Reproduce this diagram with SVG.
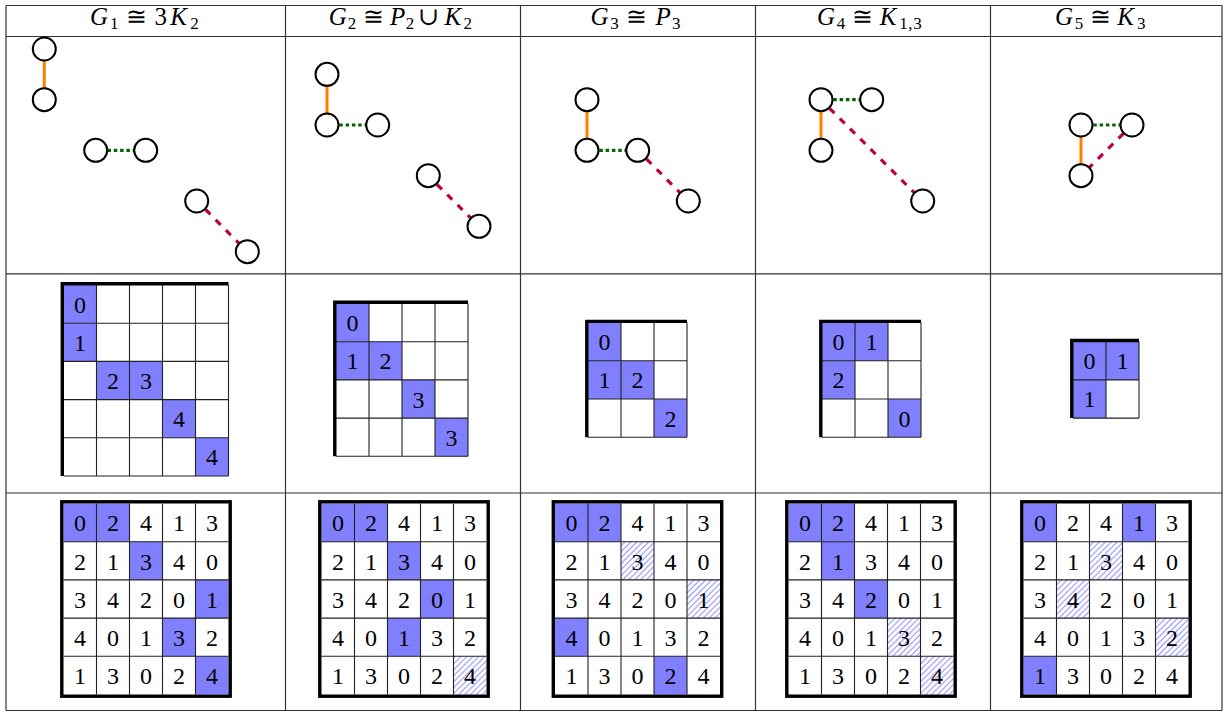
<svg xmlns="http://www.w3.org/2000/svg" xmlns:xlink="http://www.w3.org/1999/xlink" width="1226" height="713" viewBox="0 0 1226 713">
<style>
.tbl{stroke:#333;stroke-width:1.2;fill:none}
.hdr{font-family:"Liberation Serif","DejaVu Serif",serif;font-size:25px;fill:#000;text-anchor:middle}
.it{font-style:italic}
.sub{font-size:17px}
.num{font-family:"Liberation Serif","DejaVu Serif",serif;font-size:24px;fill:#000;text-anchor:middle}
.node{fill:#fff;stroke:#000;stroke-width:2}
.e-or{stroke:#ff8000;stroke-width:3;fill:none}
.e-gr{stroke:#006600;stroke-width:3.2;fill:none;stroke-dasharray:3.5 2.8}
.e-pu{stroke:#bf0040;stroke-width:3.2;fill:none;stroke-dasharray:7 7.5}
.thin{stroke:#222;stroke-width:1.1;fill:none}
.thick{stroke:#000;stroke-width:3.4;fill:none}
.hl{fill:#8080ff}
.ht{fill:url(#hatch)}
</style>
<defs>
<pattern id="hatch" patternUnits="userSpaceOnUse" width="4.2" height="4.2" patternTransform="rotate(45)">
<rect width="4.2" height="4.2" fill="#fff"/>
<line x1="1" y1="0" x2="1" y2="4.2" stroke="#6a6aff" stroke-width="0.8"/>
</pattern>
<g id="latin">
<path class="thin" d="M33 0V191M66 0V191M99 0V191M132 0V191M0 38.2H165M0 76.4H165M0 114.6H165M0 152.8H165"/>
<rect class="thick" x="-1.7" y="-1.7" width="168.4" height="194.4"/>
<text class="num" x="16.5" y="27.8">0</text><text class="num" x="49.5" y="27.8">2</text><text class="num" x="82.5" y="27.8">4</text><text class="num" x="115.5" y="27.8">1</text><text class="num" x="148.5" y="27.8">3</text>
<text class="num" x="16.5" y="66">2</text><text class="num" x="49.5" y="66">1</text><text class="num" x="82.5" y="66">3</text><text class="num" x="115.5" y="66">4</text><text class="num" x="148.5" y="66">0</text>
<text class="num" x="16.5" y="104.2">3</text><text class="num" x="49.5" y="104.2">4</text><text class="num" x="82.5" y="104.2">2</text><text class="num" x="115.5" y="104.2">0</text><text class="num" x="148.5" y="104.2">1</text>
<text class="num" x="16.5" y="142.4">4</text><text class="num" x="49.5" y="142.4">0</text><text class="num" x="82.5" y="142.4">1</text><text class="num" x="115.5" y="142.4">3</text><text class="num" x="148.5" y="142.4">2</text>
<text class="num" x="16.5" y="180.6">1</text><text class="num" x="49.5" y="180.6">3</text><text class="num" x="82.5" y="180.6">0</text><text class="num" x="115.5" y="180.6">2</text><text class="num" x="148.5" y="180.6">4</text>
</g>
</defs>
<rect width="1226" height="713" fill="#fff"/>

<g id="table">
<path class="tbl" d="M6 5.5H1222M6 36.5H1222M6 273.8H1222M6 493H1222M6 710.5H1222M6 5.5V710.5M285.5 5.5V710.5M520.5 5.5V710.5M755.5 5.5V710.5M990.5 5.5V710.5M1222 5.5V710.5"/>
</g>

<g id="headers">
<text class="hdr"><tspan class="it" x="99.1" y="25">G</tspan><tspan class="sub" x="114.2" y="28.5">1</tspan><tspan x="136" y="25">≅</tspan><tspan x="160.8" y="25">3</tspan><tspan class="it" x="178.7" y="25">K</tspan><tspan class="sub" x="194.5" y="28.5">2</tspan></text>
<text class="hdr"><tspan class="it" x="337.7" y="25">G</tspan><tspan class="sub" x="351.9" y="28.5">2</tspan><tspan x="373" y="25">≅</tspan><tspan class="it" x="397.7" y="25">P</tspan><tspan class="sub" x="410.1" y="28.5">2</tspan><tspan x="428.3" y="25">∪</tspan><tspan class="it" x="452.8" y="25">K</tspan><tspan class="sub" x="467.8" y="28.5">2</tspan></text>
<text class="hdr"><tspan class="it" x="599.5" y="25">G</tspan><tspan class="sub" x="614.6" y="28.5">3</tspan><tspan x="636.9" y="25">≅</tspan><tspan class="it" x="663.1" y="25">P</tspan><tspan class="sub" x="676.2" y="28.5">3</tspan></text>
<text class="hdr"><tspan class="it" x="826" y="25">G</tspan><tspan class="sub" x="841" y="28.5">4</tspan><tspan x="862" y="25">≅</tspan><tspan class="it" x="888" y="25">K</tspan><tspan class="sub" x="903.4" y="28.5">1</tspan><tspan class="sub" x="910.4" y="28.5">,</tspan><tspan class="sub" x="917.4" y="28.5">3</tspan></text>
<text class="hdr"><tspan class="it" x="1064" y="25">G</tspan><tspan class="sub" x="1079" y="28.5">5</tspan><tspan x="1100" y="25">≅</tspan><tspan class="it" x="1125.5" y="25">K</tspan><tspan class="sub" x="1141.2" y="28.5">3</tspan></text>
</g>

<g id="connectors">
<line class="e-or" x1="44.3" y1="49" x2="44.3" y2="99.7"/>
<line class="e-gr" x1="107.5" y1="150.3" x2="134" y2="150.3"/>
<line class="e-pu" x1="205.5" y1="209.5" x2="247.3" y2="251.7"/>
<line class="e-or" x1="327" y1="74.3" x2="327" y2="125"/>
<line class="e-gr" x1="339.3" y1="125" x2="366" y2="125"/>
<line class="e-pu" x1="437" y1="184.5" x2="479" y2="226.3"/>
<line class="e-or" x1="587" y1="99.7" x2="587" y2="150.3"/>
<line class="e-gr" x1="599.3" y1="150.3" x2="626" y2="150.3"/>
<line class="e-pu" x1="646.5" y1="159" x2="688.3" y2="201"/>
<line class="e-or" x1="821" y1="99.7" x2="821" y2="150.3"/>
<line class="e-gr" x1="833.3" y1="99.7" x2="860" y2="99.7"/>
<line class="e-pu" x1="829.5" y1="108.3" x2="922.7" y2="201"/>
<line class="e-or" x1="1081" y1="125" x2="1081" y2="175.7"/>
<line class="e-gr" x1="1093.3" y1="125" x2="1120" y2="125"/>
<line class="e-pu" x1="1123.5" y1="133.5" x2="1081" y2="175.7"/>
</g>

<g id="g1-n1"><circle class="node" cx="44.3" cy="49" r="11.5"/></g>
<g id="g1-n2"><circle class="node" cx="44.3" cy="99.7" r="11.5"/></g>
<g id="g1-n3"><circle class="node" cx="95.7" cy="150.3" r="11.5"/></g>
<g id="g1-n4"><circle class="node" cx="145.7" cy="150.3" r="11.5"/></g>
<g id="g1-n5"><circle class="node" cx="196.7" cy="201" r="11.5"/></g>
<g id="g1-n6"><circle class="node" cx="247.3" cy="251.7" r="11.5"/></g>

<g id="g2-n1"><circle class="node" cx="327" cy="74.3" r="11.5"/></g>
<g id="g2-n2"><circle class="node" cx="327" cy="125" r="11.5"/></g>
<g id="g2-n3"><circle class="node" cx="377.7" cy="125" r="11.5"/></g>
<g id="g2-n4"><circle class="node" cx="428.3" cy="175.7" r="11.5"/></g>
<g id="g2-n5"><circle class="node" cx="479" cy="226.3" r="11.5"/></g>

<g id="g3-n1"><circle class="node" cx="587" cy="99.7" r="11.5"/></g>
<g id="g3-n2"><circle class="node" cx="587" cy="150.3" r="11.5"/></g>
<g id="g3-n3"><circle class="node" cx="637.7" cy="150.3" r="11.5"/></g>
<g id="g3-n4"><circle class="node" cx="688.3" cy="201" r="11.5"/></g>

<g id="g4-n1"><circle class="node" cx="821" cy="99.7" r="11.5"/></g>
<g id="g4-n2"><circle class="node" cx="871.7" cy="99.7" r="11.5"/></g>
<g id="g4-n3"><circle class="node" cx="821" cy="150.3" r="11.5"/></g>
<g id="g4-n4"><circle class="node" cx="922.7" cy="201" r="11.5"/></g>

<g id="g5-n1"><circle class="node" cx="1081" cy="125" r="11.5"/></g>
<g id="g5-n2"><circle class="node" cx="1132" cy="125" r="11.5"/></g>
<g id="g5-n3"><circle class="node" cx="1081" cy="175.7" r="11.5"/></g>

<g id="young-1" transform="translate(63.5,285)">
<rect class="hl" x="0" y="0" width="33" height="38.2"/><rect class="hl" x="0" y="38.2" width="33" height="38.2"/><rect class="hl" x="33" y="76.4" width="33" height="38.2"/><rect class="hl" x="66" y="76.4" width="33" height="38.2"/><rect class="hl" x="99" y="114.6" width="33" height="38.2"/><rect class="hl" x="132" y="152.8" width="33" height="38.2"/>
<path class="thin" d="M33 0V191M66 0V191M99 0V191M132 0V191M165 0V191M0 38.2H165M0 76.4H165M0 114.6H165M0 152.8H165M0 191H165"/>
<path class="thick" d="M-1.2 191V-1.2H165"/>
<text class="num" x="16.5" y="27.6">0</text><text class="num" x="16.5" y="65.8">1</text><text class="num" x="49.5" y="104">2</text><text class="num" x="82.5" y="104">3</text><text class="num" x="115.5" y="142.2">4</text><text class="num" x="148.5" y="180.4">4</text>
</g>

<g id="young-2" transform="translate(336,303.5)">
<rect class="hl" x="0" y="0" width="33" height="38.2"/><rect class="hl" x="0" y="38.2" width="33" height="38.2"/><rect class="hl" x="33" y="38.2" width="33" height="38.2"/><rect class="hl" x="66" y="76.4" width="33" height="38.2"/><rect class="hl" x="99" y="114.6" width="33" height="38.2"/>
<path class="thin" d="M33 0V152.8M66 0V152.8M99 0V152.8M132 0V152.8M0 38.2H132M0 76.4H132M0 114.6H132M0 152.8H132"/>
<path class="thick" d="M-1.2 152.8V-1.2H132"/>
<text class="num" x="16.5" y="27.6">0</text><text class="num" x="16.5" y="65.8">1</text><text class="num" x="49.5" y="65.8">2</text><text class="num" x="82.5" y="104">3</text><text class="num" x="115.5" y="142.2">3</text>
</g>

<g id="young-3" transform="translate(588,322.6)">
<rect class="hl" x="0" y="0" width="33" height="38.2"/><rect class="hl" x="0" y="38.2" width="33" height="38.2"/><rect class="hl" x="33" y="38.2" width="33" height="38.2"/><rect class="hl" x="66" y="76.4" width="33" height="38.2"/>
<path class="thin" d="M33 0V114.6M66 0V114.6M99 0V114.6M0 38.2H99M0 76.4H99M0 114.6H99"/>
<path class="thick" d="M-1.2 114.6V-1.2H99"/>
<text class="num" x="16.5" y="27.6">0</text><text class="num" x="16.5" y="65.8">1</text><text class="num" x="49.5" y="65.8">2</text><text class="num" x="82.5" y="104">2</text>
</g>

<g id="young-4" transform="translate(822,322.6)">
<rect class="hl" x="0" y="0" width="33" height="38.2"/><rect class="hl" x="33" y="0" width="33" height="38.2"/><rect class="hl" x="0" y="38.2" width="33" height="38.2"/><rect class="hl" x="66" y="76.4" width="33" height="38.2"/>
<path class="thin" d="M33 0V114.6M66 0V114.6M99 0V114.6M0 38.2H99M0 76.4H99M0 114.6H99"/>
<path class="thick" d="M-1.2 114.6V-1.2H99"/>
<text class="num" x="16.5" y="27.6">0</text><text class="num" x="49.5" y="27.6">1</text><text class="num" x="16.5" y="65.8">2</text><text class="num" x="82.5" y="104">0</text>
</g>

<g id="young-5" transform="translate(1073,341.7)">
<rect class="hl" x="0" y="0" width="33" height="38.2"/><rect class="hl" x="33" y="0" width="33" height="38.2"/><rect class="hl" x="0" y="38.2" width="33" height="38.2"/>
<path class="thin" d="M33 0V76.4M66 0V76.4M0 38.2H66M0 76.4H66"/>
<path class="thick" d="M-1.2 76.4V-1.2H66"/>
<text class="num" x="16.5" y="27.6">0</text><text class="num" x="49.5" y="27.6">1</text><text class="num" x="16.5" y="65.8">1</text>
</g>

<g id="latin-1" transform="translate(63.5,503.5)">
<rect class="hl" x="0" y="0" width="33" height="38.2"/><rect class="hl" x="33" y="0" width="33" height="38.2"/><rect class="hl" x="66" y="38.2" width="33" height="38.2"/><rect class="hl" x="132" y="76.4" width="33" height="38.2"/><rect class="hl" x="99" y="114.6" width="33" height="38.2"/><rect class="hl" x="132" y="152.8" width="33" height="38.2"/>
<use href="#latin" xlink:href="#latin"/>
</g>

<g id="latin-2" transform="translate(321.5,503.5)">
<rect class="hl" x="0" y="0" width="33" height="38.2"/><rect class="hl" x="33" y="0" width="33" height="38.2"/><rect class="hl" x="66" y="38.2" width="33" height="38.2"/><rect class="hl" x="99" y="76.4" width="33" height="38.2"/><rect class="hl" x="66" y="114.6" width="33" height="38.2"/>
<rect class="ht" x="132" y="152.8" width="33" height="38.2"/>
<use href="#latin" xlink:href="#latin"/>
</g>

<g id="latin-3" transform="translate(555,503.5)">
<rect class="hl" x="0" y="0" width="33" height="38.2"/><rect class="hl" x="33" y="0" width="33" height="38.2"/><rect class="hl" x="0" y="114.6" width="33" height="38.2"/><rect class="hl" x="99" y="152.8" width="33" height="38.2"/>
<rect class="ht" x="66" y="38.2" width="33" height="38.2"/><rect class="ht" x="132" y="76.4" width="33" height="38.2"/>
<use href="#latin" xlink:href="#latin"/>
</g>

<g id="latin-4" transform="translate(788.5,503.5)">
<rect class="hl" x="0" y="0" width="33" height="38.2"/><rect class="hl" x="33" y="0" width="33" height="38.2"/><rect class="hl" x="33" y="38.2" width="33" height="38.2"/><rect class="hl" x="66" y="76.4" width="33" height="38.2"/>
<rect class="ht" x="99" y="114.6" width="33" height="38.2"/><rect class="ht" x="132" y="152.8" width="33" height="38.2"/>
<use href="#latin" xlink:href="#latin"/>
</g>

<g id="latin-5" transform="translate(1023.5,503.5)">
<rect class="hl" x="0" y="0" width="33" height="38.2"/><rect class="hl" x="99" y="0" width="33" height="38.2"/><rect class="hl" x="0" y="152.8" width="33" height="38.2"/>
<rect class="ht" x="66" y="38.2" width="33" height="38.2"/><rect class="ht" x="33" y="76.4" width="33" height="38.2"/><rect class="ht" x="132" y="114.6" width="33" height="38.2"/>
<use href="#latin" xlink:href="#latin"/>
</g>
</svg>
